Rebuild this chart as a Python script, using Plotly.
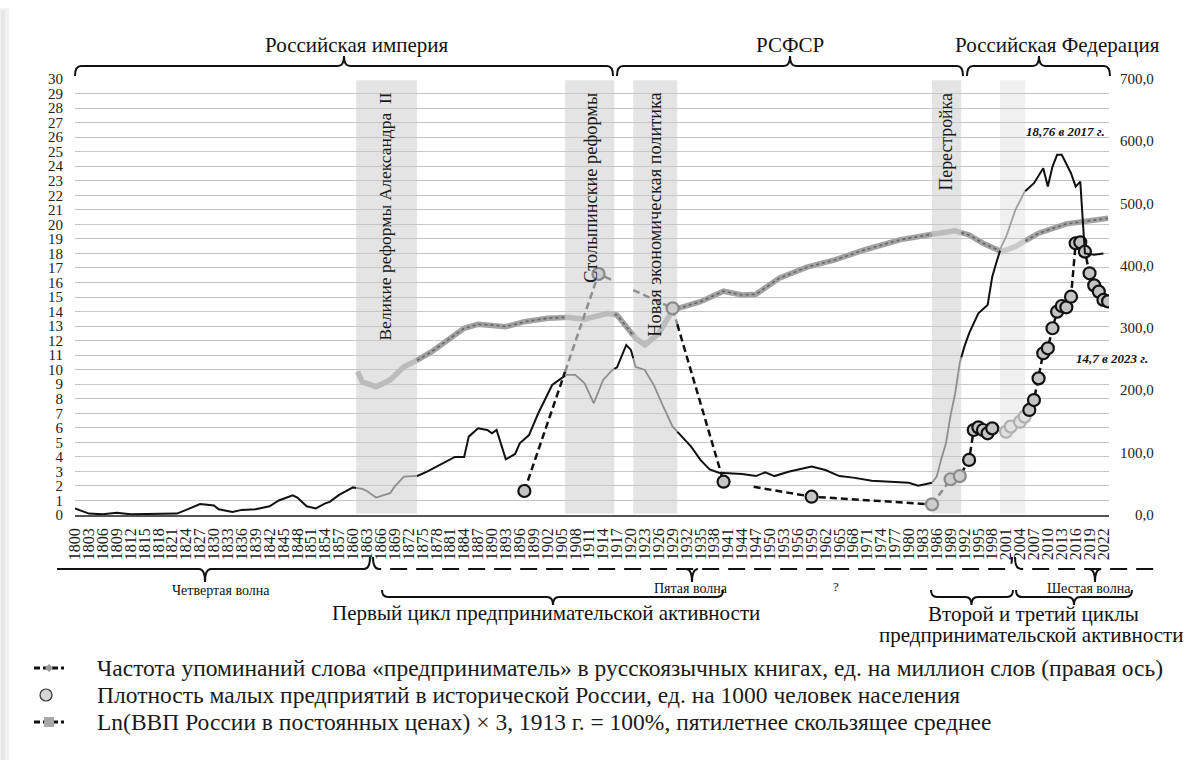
import plotly.graph_objects as go

# ---------------- data ----------------
FREQ_YEARS = [1800, 1803, 1806, 1809, 1812, 1815, 1818, 1821, 1822, 1824, 1827, 1830, 1831, 1834, 1836,
              1839, 1842, 1844, 1847, 1848, 1850, 1852, 1854, 1855, 1857, 1860, 1862, 1863, 1865, 1868,
              1869, 1871, 1874, 1876, 1878, 1882, 1884, 1885, 1887, 1889, 1890, 1891, 1893, 1895, 1896,
              1898, 1900, 1903, 1906, 1908, 1910, 1912, 1914, 1916, 1917, 1919, 1920, 1921, 1923, 1925,
              1927, 1929, 1931, 1933, 1935, 1937, 1939, 1944, 1947, 1949, 1951, 1954, 1959, 1962, 1965,
              1968, 1972, 1977, 1980, 1982, 1985, 1986, 1987, 1988, 1989, 1990, 1991, 1992, 1993, 1995,
              1997, 1998, 1999, 2000, 2001, 2003, 2005, 2007, 2009, 2010, 2011, 2012, 2013, 2015, 2016,
              2017, 2018, 2020, 2022]
FREQ_VALUES = [10.5, 2.3, 1.2, 3.5, 1.2, 1.2, 1.9, 1.4, 2.3, 8.2, 17.5, 15.2, 9.3, 4.7, 8.2,
               9.3, 14.0, 23.3, 31.5, 28.0, 14.0, 10.5, 18.7, 21.0, 32.2, 44.3, 42.0, 38.5, 28.0, 35.0,
               45.5, 61.6, 63.0, 69.5, 77.7, 93.3, 93.3, 125.8, 139.1, 136.5, 131.1, 136.5, 89.4, 98.0, 115.0,
               128.3, 163.3, 208.8, 224.9, 224.9, 211.4, 179.4, 216.8, 232.9, 237.1, 273.0, 265.1, 238.0, 232.9, 207.7,
               173.8, 141.9, 125.8, 109.7, 88.4, 73.3, 67.9, 65.8, 62.5, 68.6, 62.5, 69.5, 77.7, 72.3, 62.5,
               60.0, 55.1, 53.4, 51.8, 47.1, 51.8, 61.6, 90.0, 115.0, 160.0, 195.5, 245.0, 270.7, 291.7, 323.9,
               337.2, 382.7, 408.3, 431.7, 446.8, 489.8, 519.2, 532.7, 556.7, 527.3, 559.3, 578.2, 578.2, 548.8, 527.3,
               535.3, 420.0, 417.7, 420.0]

GDP_YEARS = [1861, 1862, 1865, 1868, 1871, 1874, 1877, 1881, 1884, 1887, 1890, 1893, 1897, 1902, 1906,
             1910, 1915, 1917, 1919, 1921, 1923, 1926, 1929, 1935, 1940, 1944, 1947, 1952, 1958, 1964,
             1970, 1974, 1978, 1985, 1990, 1993, 1996, 2000, 2003, 2008, 2014, 2023]
GDP_VALUES = [9.86, 9.17, 8.83, 9.29, 10.2, 10.67, 11.24, 12.16, 12.85, 13.12, 13.08, 12.96, 13.3, 13.54, 13.6,
              13.47, 13.88, 13.76, 12.96, 12.16, 11.7, 12.5, 14.1, 14.68, 15.4, 15.14, 15.19, 16.29, 17.05, 17.55,
              18.2, 18.58, 18.93, 19.32, 19.55, 19.27, 18.7, 18.12, 18.47, 19.39, 20.03, 20.42]

DENS_YEARS = [1897, 1913, 1929, 1940, 1959, 1985, 1989, 1991, 1993, 1994, 1995, 1996, 1997, 1998,
              2001, 2002, 2004, 2005, 2006, 2007, 2008, 2009, 2010, 2011, 2012, 2013, 2014, 2015,
              2016, 2017, 2018, 2019, 2020, 2021, 2022, 2023]
DENS_VALUES = [1.65, 16.59, 14.22, 2.29, 1.26, 0.73, 2.46, 2.68, 3.79, 5.85, 6.03, 5.85, 5.62, 5.96,
               5.73, 6.08, 6.42, 6.77, 7.23, 7.91, 9.4, 11.13, 11.47, 12.85, 13.99, 14.38, 14.29, 15.02,
               18.7, 18.76, 18.12, 16.63, 15.8, 15.37, 14.8, 14.7]
DENS_GAPS = [(1916.4, 1920.5), (1941.4, 1946.5)]

BANDS = [(1860.7, 1873.8), (1905.8, 1916.4), (1920.5, 1930.0), (1985.0, 1991.3)]
LIGHT_BANDS = [(1999.7, 2005.1)]
BAND_LABELS = ["Великие реформы Александра  II", "Столыпинские реформы",
               "Новая экономическая политика", "Перестройка"]
BAND_LABEL_X = [1866.9, 1911.2, 1925.2, 1988.0]
BAND_LABEL_SIZE = [17.5, 18.3, 18.3, 17.8]

TICK_YEARS = list(range(1800, 2023, 3))
LEFT_TICKS = list(range(0, 31))
RIGHT_TICKS = [0, 100, 200, 300, 400, 500, 600, 700]

ERAS = [("Российская империя", 75, 613, 344, 357),
        ("РСФСР", 617, 963, 790, 790),
        ("Российская Федерация", 967, 1110, 1039, 1057)]

LEGEND_NAMES = ["Частота упоминаний слова «предприниматель» в русскоязычных книгах, ед. на миллион слов (правая ось)",
                "Плотность малых предприятий в исторической России, ед. на 1000 человек населения",
                "Ln(ВВП России в постоянных ценах) × 3, 1913 г. = 100%, пятилетнее скользящее среднее"]

# ---------------- geometry helpers ----------------
W, H = 1185, 760
ML, MR, MT, MB = 75, 76, 79, 245
PW, PH = W - ML - MR, H - MT - MB
FONT = "Liberation Serif"


def fx(px):
    return (px - ML) / PW


def fy(py):
    return (H - MB - py) / PH


def P(px, py):
    return f"{fx(px):.5f},{fy(py):.5f}"


def kind_of(x, gaps=()):
    for a, b in gaps:
        if a <= x <= b:
            return "gap"
    for a, b in BANDS:
        if a <= x <= b:
            return "band"
    for a, b in LIGHT_BANDS:
        if a <= x <= b:
            return "light"
    return "out"


def split_segments(xs, ys, gaps=()):
    cuts = sorted({c for r in list(BANDS) + list(LIGHT_BANDS) + list(gaps) for c in r})
    qx, qy = [xs[0]], [ys[0]]
    for i in range(1, len(xs)):
        xa, ya, xb, yb = xs[i - 1], ys[i - 1], xs[i], ys[i]
        for c in cuts:
            if xa < c < xb:
                qx.append(c)
                qy.append(ya + (yb - ya) * (c - xa) / (xb - xa))
        qx.append(xb)
        qy.append(yb)
    segs = {}
    prev = None
    for i in range(1, len(qx)):
        k = kind_of((qx[i - 1] + qx[i]) / 2, gaps)
        lx, ly = segs.setdefault(k, ([], []))
        if k != prev:
            if lx:
                lx.append(None)
                ly.append(None)
            lx.append(qx[i - 1])
            ly.append(qy[i - 1])
        lx.append(qx[i])
        ly.append(qy[i])
        prev = k
    return segs


fig = go.Figure()

# GDP line (left axis)
gdp = split_segments(GDP_YEARS, GDP_VALUES)
gdp_style = {"out": "#a2a2a2", "band": "#bcbcbc", "light": "#cacaca"}
for k, (sx, sy) in gdp.items():
    fig.add_trace(go.Scatter(x=sx, y=sy, mode="lines", line=dict(color=gdp_style[k], width=5.5),
                             showlegend=False, hoverinfo="skip"))
if "out" in gdp:
    sx, sy = gdp["out"]
    fig.add_trace(go.Scatter(x=sx, y=sy, mode="lines", line=dict(color="rgba(40,40,40,0.5)", width=1.6, dash="dot"),
                             showlegend=False, hoverinfo="skip"))

# Frequency line (right axis)
frq = split_segments(FREQ_YEARS, FREQ_VALUES)
frq_style = {"out": ("#111111", 2.0), "band": ("#8e8e8e", 1.8), "light": ("#a0a0a0", 1.8)}
for k, (sx, sy) in frq.items():
    c, w = frq_style[k]
    fig.add_trace(go.Scatter(x=sx, y=sy, yaxis="y2", mode="lines", line=dict(color=c, width=w),
                             showlegend=False, hoverinfo="skip"))

# Density dashed line and circles (left axis)
den = split_segments(DENS_YEARS, DENS_VALUES, DENS_GAPS)
den_style = {"out": "#111111", "band": "#8e8e8e", "light": "#b8b8b8"}
for k, (sx, sy) in den.items():
    if k == "gap":
        continue
    fig.add_trace(go.Scatter(x=sx, y=sy, mode="lines", line=dict(color=den_style[k], width=2.5, dash="7px,4px"),
                             showlegend=False, hoverinfo="skip"))
mk_fill = {"out": "#c4c4c4", "band": "#cdcdcd", "light": "#e2e2e2"}
mk_line = {"out": "#111111", "band": "#8a8a8a", "light": "#b0b0b0"}
kinds = [kind_of(x) for x in DENS_YEARS]
fig.add_trace(go.Scatter(x=DENS_YEARS, y=DENS_VALUES, mode="markers",
                         marker=dict(symbol="circle", size=12,
                                     color=[mk_fill[k] for k in kinds],
                                     line=dict(color=[mk_line[k] for k in kinds], width=2.2)),
                         showlegend=False, hoverinfo="skip"))

shapes = []
# shaded periods
for a, b in BANDS:
    shapes.append(dict(type="rect", xref="x", yref="y", x0=a, x1=b, y0=0.1, y1=29.92,
                       fillcolor="#e4e4e4", line=dict(width=0), layer="below"))
for a, b in LIGHT_BANDS:
    shapes.append(dict(type="rect", xref="x", yref="y", x0=a, x1=b, y0=0.1, y1=29.92,
                       fillcolor="#f0f0f0", line=dict(width=0), layer="below"))

# left-edge shadow
shapes.append(dict(type="rect", xref="paper", yref="paper", x0=fx(0), x1=fx(9), y0=fy(760), y1=fy(8),
                   fillcolor="#f1f1f1", line=dict(width=0), layer="below"))
shapes.append(dict(type="rect", xref="paper", yref="paper", x0=fx(1), x1=fx(5), y0=fy(760), y1=fy(10),
                   fillcolor="#e6e6e6", line=dict(width=0), layer="below"))


def brace(x0, x1, tip, yh, yend, ytip, r=6):
    return (f"M{P(x0, yend)} Q{P(x0, yh)} {P(x0 + r, yh)} L{P(tip - r, yh)} Q{P(tip, yh)} {P(tip, ytip)} "
            f"Q{P(tip, yh)} {P(tip + r, yh)} L{P(x1 - r, yh)} Q{P(x1, yh)} {P(x1, yend)}")


def add_path(path, dash="solid", width=2.0, color="#111"):
    shapes.append(dict(type="path", xref="paper", yref="paper", path=path,
                       line=dict(color=color, width=width, dash=dash)))


for name, x0, x1, tip, tx in ERAS:
    add_path(brace(x0, x1, tip, 66, 76, 56))

# bottom row 1 (waves)
Y1 = 569
add_path(f"M{P(57, Y1)} L{P(199, Y1)} Q{P(205, Y1)} {P(205, 582)} Q{P(205, Y1)} {P(211, Y1)} "
         f"L{P(364, Y1)} Q{P(370, Y1)} {P(370, 557)}")
add_path(f"M{P(373, 557)} Q{P(373, Y1)} {P(379, Y1)} L{P(1006, Y1)} Q{P(1012, Y1)} {P(1012, 557)}",
         dash="17px,9px")
add_path(f"M{P(1015, 557)} Q{P(1015, Y1)} {P(1021, Y1)} L{P(1154, Y1)}", dash="17px,9px")
for t in (692, 1095):
    add_path(f"M{P(t - 6, Y1)} Q{P(t, Y1)} {P(t, 582)} Q{P(t, Y1)} {P(t + 6, Y1)}")

# bottom row 2 (cycles)
Y2 = 597
add_path(brace(382, 723, 553, Y2, 590, 605))
add_path(brace(931, 1013, 971.5, Y2, 590, 605))
add_path(brace(1016, 1132, 1074, Y2, 590, 605))

# manual legend symbols
LEG_ROWS = [668, 695, 722]
add_path(f"M{P(34, LEG_ROWS[0])} L{P(64, LEG_ROWS[0])}", dash="6px,3px", width=3)
shapes.append(dict(type="path", xref="paper", yref="paper",
                   path=f"M{P(49, LEG_ROWS[0] - 4)} L{P(53, LEG_ROWS[0])} L{P(49, LEG_ROWS[0] + 4)} L{P(45, LEG_ROWS[0])} Z",
                   fillcolor="#9a9a9a", line=dict(width=0)))
shapes.append(dict(type="circle", xref="paper", yref="paper", x0=fx(40), x1=fx(52),
                   y0=fy(LEG_ROWS[1] + 6), y1=fy(LEG_ROWS[1] - 6),
                   fillcolor="#d6d6d6", line=dict(color="#333", width=1.2)))
add_path(f"M{P(34, LEG_ROWS[2])} L{P(64, LEG_ROWS[2])}", dash="6px,3px", width=3)
shapes.append(dict(type="rect", xref="paper", yref="paper", x0=fx(44), x1=fx(54),
                   y0=fy(LEG_ROWS[2] + 5), y1=fy(LEG_ROWS[2] - 5),
                   fillcolor="#a8a8a8", line=dict(width=0)))

ann = []
for name, x0, x1, tip, tx in ERAS:
    ann.append(dict(text=name, x=fx(tx), y=fy(45), xref="paper", yref="paper", showarrow=False,
                    font=dict(size=21, color="#111"), xanchor="center", yanchor="middle"))
for lbl, lx, ls in zip(BAND_LABELS, BAND_LABEL_X, BAND_LABEL_SIZE):
    ann.append(dict(text=lbl, x=lx, y=29.2, xref="x", yref="y", showarrow=False, textangle=-90,
                    font=dict(size=ls, color="#1a1a1a"), xanchor="center", yanchor="top"))
ann.append(dict(text="<b><i>18,76 в 2017 г.</i></b>", x=2022.7, y=26.37, xref="x", yref="y", showarrow=False,
                font=dict(size=13, color="#111"), xanchor="right", yanchor="middle"))
ann.append(dict(text="<b><i>14,7 в 2023 г.</i></b>", x=2015.65, y=10.78, xref="x", yref="y", showarrow=False,
                font=dict(size=13, color="#111"), xanchor="left", yanchor="middle"))
for v in RIGHT_TICKS:
    ann.append(dict(text=f"{v},0", x=fx(1156), y=v, xref="paper", yref="y2", showarrow=False,
                    font=dict(size=15, color="#222"), xanchor="right", yanchor="middle"))

bottom_texts = [("Четвертая волна", 221, 590, 14), ("Пятая волна", 691, 588, 14), ("?", 836, 586, 13),
                ("Шестая волна", 1089, 588, 14),
                ("Первый цикл предпринимательской активности", 546, 613, 21),
                ("Второй и третий циклы", 1033, 614, 21),
                ("предпринимательской активности", 1031, 635, 21)]
for t, x, y, s in bottom_texts:
    ann.append(dict(text=t, x=fx(x), y=fy(y), xref="paper", yref="paper", showarrow=False,
                    font=dict(size=s, color="#111"), xanchor="center", yanchor="middle"))

for name, ry in zip(LEGEND_NAMES, LEG_ROWS):
    ann.append(dict(text=name, x=fx(95), y=fy(ry), xref="paper", yref="paper", showarrow=False,
                    font=dict(size=23.5, color="#1a1a1a"), xanchor="left", yanchor="middle"))

fig.update_layout(
    width=W, height=H,
    margin=dict(l=ML, r=MR, t=MT, b=MB, autoexpand=False),
    paper_bgcolor="white", plot_bgcolor="white",
    font=dict(family=FONT, color="#1a1a1a"),
    showlegend=False,
    xaxis=dict(range=[1800, 2023.2], tickmode="array", tickvals=TICK_YEARS,
               ticktext=[str(y) for y in TICK_YEARS], tickangle=-90, tickfont=dict(size=16, color="#1a1a1a"),
               showgrid=False, showline=True, linecolor="#555", linewidth=1.5, ticks="",
               zeroline=False, ticklabelstandoff=5),
    yaxis=dict(range=[0, 30], tickmode="array", tickvals=LEFT_TICKS, tickfont=dict(size=15, color="#222"),
               gridcolor="#c6c6c6", gridwidth=1.3, showline=False, zeroline=False, ticks="",
               ticklabelstandoff=11),
    yaxis2=dict(range=[0, 700], overlaying="y", side="right", showgrid=False, showticklabels=False,
                zeroline=False, showline=False),
    shapes=shapes, annotations=ann,
)

fig.write_html("out.html", config={"displayModeBar": False},
               post_script="document.body.style.margin='0';document.body.style.overflow='hidden';")
